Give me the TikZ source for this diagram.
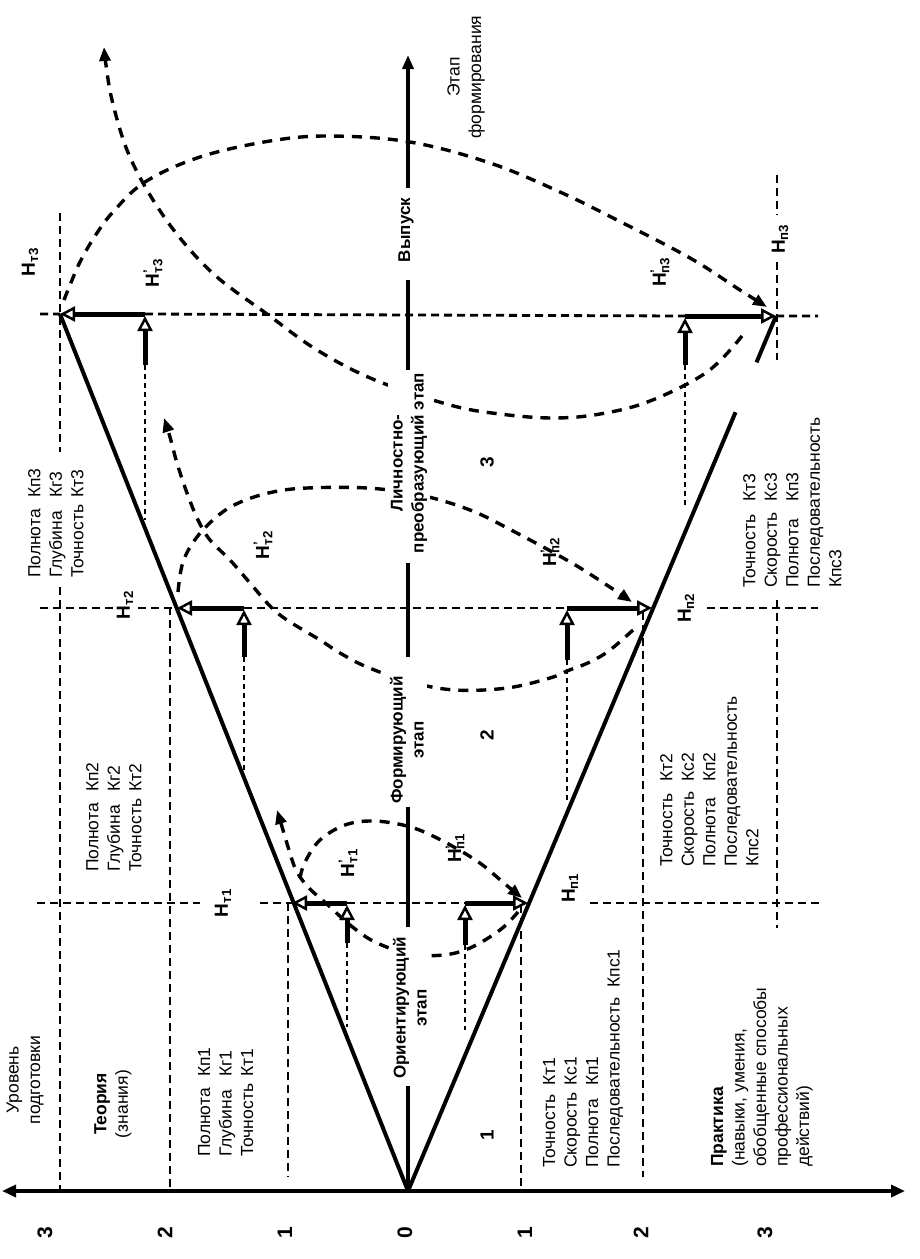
\documentclass[tikz,border=0pt]{standalone}
\usepackage{fontspec}
\setmainfont{Liberation Sans}
\usetikzlibrary{arrows.meta,calc}
\begin{document}
\begin{tikzpicture}[x=1pt,y=-1pt,
  every node/.style={rotate=90, inner sep=0pt, font=\fontsize{17.5}{21.5}\selectfont},
  gridline/.style={line width=2.8pt, dash pattern=on 8pt off 5pt},
  vline/.style={line width=4pt},
  arc/.style={line width=3.4pt, dash pattern=on 10pt off 8pt, -{Triangle[length=14pt,width=11pt]}},
  harrow/.style={line width=5pt, -{Triangle[open,fill=white,length=15pt,width=15pt,line width=2.5pt]}},
  thind/.style={line width=1.5pt, dash pattern=on 5pt off 4pt},
  hlab/.style={font=\fontsize{19}{20}\selectfont\bfseries},
  stagetxt/.style={font=\fontsize{17}{21}\selectfont\bfseries, align=center, fill=white, inner sep=3pt},
  block/.style={align=left, anchor=north west},
  ticklab/.style={font=\fontsize{21}{22}\selectfont\bfseries},
  numlab/.style={font=\fontsize{19}{20}\selectfont\bfseries}
]
\useasboundingbox (0,0) rectangle (920,1259);
\fill[white] (0,0) rectangle (920,1259);

% key points
\coordinate (O) at (408,1191);
\coordinate (T1) at (292,903);
\coordinate (T2) at (177,608);
\coordinate (T3) at (60,314);
\coordinate (P1) at (528,903);
\coordinate (P2) at (652,608);
\coordinate (P3) at (776,316);
\coordinate (axL) at (2,1191);
\coordinate (axR) at (905,1191);

% grid lines
\draw[gridline] (60,213) -- (60,452) (60,587) -- (60,1191);
\draw[gridline] (170,607) -- (170,1191);
\draw[gridline] (288,903) -- (288,1177);
\draw[gridline] (521,905) -- (521,1191);
\draw[gridline] (643,612) -- (643,1177);
\draw[gridline] (777,175) -- (777,215) (777,262) -- (777,360) (777,600) -- (777,928);
\draw[gridline] (37,903) -- (200,903) (260,903) -- (T1) (347,903) -- (465,903) (590,903) -- (820,903);
\draw[gridline] (40,608) -- (115,608) (138,608) -- (T2) (244,608) -- (567,608) (707,608) -- (818,608);
\draw[gridline] (40,314) -- (T3) (145,314) -- (685,316) (P3) -- (818,316);

% axis
\draw[line width=4pt, {Triangle[length=14pt,width=12pt]}-{Triangle[length=14pt,width=12pt]}] (axL) -- (axR);

% V lines
\draw[vline] (O) -- (T3);
\draw[vline] (O) -- ($(O)!0.89!(P3)$);
\draw[vline] ($(O)!0.947!(P3)$) -- (P3);

% centre bars
\draw[vline] (O) -- (408,1086);
\draw[vline] (408,927) -- (408,803);
\draw[vline] (408,657) -- (408,563);
\draw[vline] (408,385) -- (408,280);
\coordinate (topS) at (408,188);
\coordinate (topE) at (408,55);
\draw[vline, -{Triangle[length=14pt,width=11pt]}] (topS) -- (topE);

% thin dashed helpers
\draw[thind] (347,943) -- (347,1027);
\draw[thind] (465,945) -- (465,1030);
\draw[thind] (244,657) -- (244,770);
\draw[thind] (567,660) -- (567,800);
\draw[thind] (145,365) -- (145,520);
\draw[thind] (685,365) -- (685,505);

% dashed arcs
\draw[arc] plot[smooth, tension=0.6] coordinates {(300,878) (305,862) (320,840) (345,825) (373,821) (407,826) (437,838) (477,861) (505,884) (522,898)};
\draw[arc] plot[smooth, tension=0.6] coordinates {(518,912) (500,930) (470,948) (443,955) (410,954) (375,942) (350,925) (328,905) (308,887) (296,870) (289,850) (283,830) (277,810)};
\draw[arc] plot[smooth, tension=0.6] coordinates {(178,592) (183,562) (197,537) (220,514) (243,501) (273,492) (307,488) (367,488) (420,495) (470,510) (513,531) (577,566) (632,602)};
\draw[arc] plot[smooth, tension=0.6] coordinates {(633,630) (610,650) (590,662) (567,671) (550,678) (507,688) (455,690) (410,682) (367,667) (340,653) (320,640) (287,620) (270,606) (250,583) (230,560) (210,540) (198,520) (187,493) (177,463) (170,437) (164,418)};
\draw[arc] plot[smooth, tension=0.6] coordinates {(64,300) (70,285) (80,262) (95,236) (113,212) (145,182) (200,157) (270,141) (330,136) (410,142) (490,163) (560,192) (617,220) (690,258) (740,290) (767,307)};
\draw[arc] plot[smooth, tension=0.6] coordinates {(742,336) (707,372) (650,401) (600,414) (553,418) (500,414) (450,405) (375,380) (317,350) (267,314) (217,277) (180,238) (150,195) (127,150) (112,100) (106,65) (104,47)};

% thick arrows
\draw[harrow] (347,943) -- (347,905);
\draw[harrow] (347,903) -- (T1);
\draw[harrow] (465,945) -- (465,905);
\draw[harrow] (465,903) -- (P1);
\draw[harrow] (244,657) -- (244,610);
\draw[harrow] (244,608) -- (T2);
\draw[harrow] (567,660) -- (567,610);
\draw[harrow] (567,608) -- (P2);
\draw[harrow] (145,365) -- (145,316);
\draw[harrow] (145,314) -- (T3);
\draw[harrow] (685,365) -- (685,318);
\draw[harrow] (685,316) -- (P3);

% stage texts
\node[stagetxt] (st1) at (410,1008) {Ориентирующий\\этап};
\node[stagetxt] (st2) at (407,740) {Формирующий\\этап};
\node[stagetxt] (st3) at (409,463) {Личностно-\\преобразующий этап};
\node[stagetxt] (st4) at (406,230) {Выпуск};
\node[align=center] (st5) at (466,77) {Этап\\формирования};

% stage numbers
\node[numlab] (n1) at (487,1135) {1};
\node[numlab] (n2) at (487,735) {2};
\node[numlab] (n3) at (487,462) {3};

% ticks
\node[ticklab] (k3a) at (45,1233) {3};
\node[ticklab] (k2a) at (165,1233) {2};
\node[ticklab] (k1a) at (285,1233) {1};
\node[ticklab] (k0) at (405,1233) {0};
\node[ticklab] (k1b) at (525,1233) {1};
\node[ticklab] (k2b) at (641,1233) {2};
\node[ticklab] (k3b) at (765,1233) {3};

% H labels
\node[hlab] (ht3) at (30,262) {Н\textsubscript{т3}};
\node[hlab] (hpt3) at (153,273) {Н\rlap{\textsuperscript{'}}\textsubscript{т3}};
\node[hlab] (ht2) at (125,605) {Н\textsubscript{т2}};
\node[hlab] (hpt2) at (263,545) {Н\rlap{\textsuperscript{'}}\textsubscript{т2}};
\node[hlab] (ht1) at (223,903) {Н\textsubscript{т1}};
\node[hlab] (hpt1) at (348,863) {Н\rlap{\textsuperscript{'}}\textsubscript{т1}};
\node[hlab] (hpp1) at (455,848) {Н\rlap{\textsuperscript{'}}\textsubscript{п1}};
\node[hlab] (hp1) at (570,888) {Н\textsubscript{п1}};
\node[hlab] (hpp2) at (550,552) {Н\rlap{\textsuperscript{'}}\textsubscript{п2}};
\node[hlab] (hp2) at (686,608) {Н\textsubscript{п2}};
\node[hlab] (hpp3) at (660,272) {Н\rlap{\textsuperscript{'}}\textsubscript{п3}};
\node[hlab] (hp3) at (780,239) {Н\textsubscript{п3}};

% side texts
\node[align=center] (lvl) at (25,1080) {Уровень\\подготовки};
\node[align=center] (teor) at (113,1104) {\textbf{Теория}\\(знания)};
\node[align=left, anchor=north west] (prak) at (711,1167) {\textbf{Практика}\\(навыки, умения,\\обобщенные способы\\профессиональных\\действий)};

% criteria blocks
\node[block] (kt1) at (198,1157) {\makebox[80pt][l]{Полнота}Кп1\\\makebox[80pt][l]{Глубина}Кг1\\\makebox[80pt][l]{Точность}Кт1};
\node[block] (kt2) at (86,872) {\makebox[80pt][l]{Полнота}Кп2\\\makebox[80pt][l]{Глубина}Кг2\\\makebox[80pt][l]{Точность}Кт2};
\node[block] (kt3) at (28,578) {\makebox[80pt][l]{Полнота}Кп3\\\makebox[80pt][l]{Глубина}Кг3\\\makebox[80pt][l]{Точность}Кт3};
\node[block] (kp1) at (543,1168) {\makebox[82pt][l]{Точность}Кт1\\\makebox[82pt][l]{Скорость}Кс1\\\makebox[82pt][l]{Полнота}Кп1\\Последовательность\ \ Кпс1};
\node[block] (kp2) at (660,867) {\makebox[85pt][l]{Точность}Кт2\\\makebox[85pt][l]{Скорость}Кс2\\\makebox[85pt][l]{Полнота}Кп2\\Последовательность\\Кпс2};
\node[block] (kp3) at (743,588) {\makebox[86pt][l]{Точность}Кт3\\\makebox[86pt][l]{Скорость}Кс3\\\makebox[86pt][l]{Полнота}Кп3\\Последовательность\\Кпс3};
\end{tikzpicture}
\end{document}
